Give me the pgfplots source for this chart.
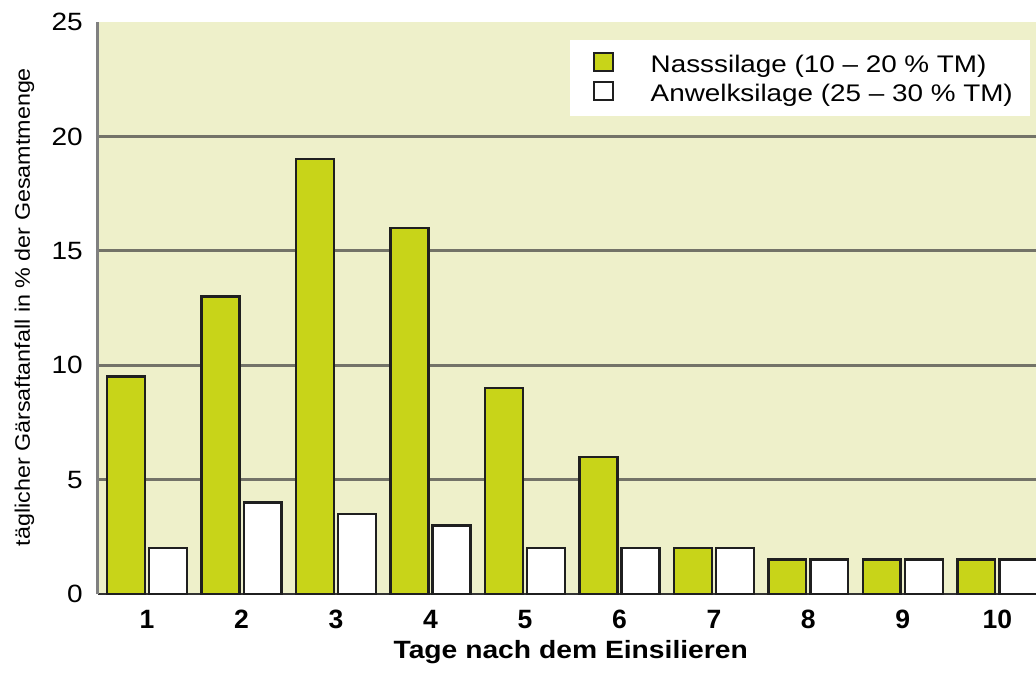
\documentclass[border=0pt]{standalone}
\usepackage{fontspec}
\setmainfont{Liberation Sans}
\newfontfamily\legfont[FakeStretch=1.16]{Liberation Sans}
\newfontfamily\ylabfont[FakeStretch=1.11]{Liberation Sans}
\newfontfamily\xlabfont[FakeStretch=1.13]{Liberation Sans}
\newfontfamily\ytickfont[FakeStretch=1.12]{Liberation Sans}
\usepackage{pgfplots}
\pgfplotsset{compat=1.18}
\definecolor{bg}{RGB}{238,240,202}
\definecolor{barg}{RGB}{200,212,25}
\definecolor{gridc}{RGB}{115,115,104}
\begin{document}
\begin{tikzpicture}
\begin{axis}[
  name=ax,
  scale only axis, width=938pt, height=572pt,
  xmin=0.48, xmax=10.41, ymin=0, ymax=25,
  axis background/.style={fill=bg},
  axis x line=bottom, axis y line=left,
  axis line style={-},
  x axis line style={draw=black!80, line width=2pt},
  y axis line style={draw=gray, line width=3pt},
  xtick={1,...,10},
  ytick={0,5,10,15,20},
  extra y ticks={25},
  extra tick style={grid=none},
  major tick length=0pt,
  ymajorgrids,
  major grid style={gridc, line width=2.8pt},
  /pgf/number format/assume math mode=true,
  yticklabel style={font=\ytickfont\fontsize{25}{28}\selectfont, inner sep=0pt, anchor=east, xshift=-15pt},
  xticklabel style={font=\bfseries\fontsize{26.5}{30}\selectfont, inner sep=0pt, anchor=north, yshift=-16pt},
  xlabel={Tage nach dem Einsilieren},
  xlabel style={font=\xlabfont\bfseries\fontsize{25}{28}\selectfont, at={(rel axis cs:0.504,-0.1136)}, anchor=base, inner sep=0pt},
  ylabel={täglicher Gärsaftanfall in \% der Gesamtmenge},
  ylabel style={font=\ylabfont\fontsize{21}{24}\selectfont, at={(rel axis cs:-0.0725,0.5017)}, anchor=base, rotate=0, inner sep=0pt},
  legend style={at={(rel axis cs:0.9936,0.9685)}, anchor=north east, fill=white, draw=none,
    inner xsep=17pt, inner ysep=12pt,
    font=\legfont\fontsize{24}{27}\selectfont,
    nodes={inner sep=0pt, text height=17pt, text depth=3pt},
    row sep=5pt},
  legend cell align=left,
  /tikz/every odd column/.append style={column sep=37pt},
  legend image code/.code={\path (0pt,0pt); \draw[#1, line width=2pt] (6pt,-5.4pt) rectangle (25pt,12.6pt);},
]
\addplot[ybar, bar width=0.4, bar shift=-0.2225, fill=barg, draw=black!88, line width=2.4pt]
  coordinates {(1,9.5) (2,13) (3,19) (4,16) (5,9) (6,6) (7,2) (8,1.5) (9,1.5) (10,1.5)};
\addlegendentry{Nasssilage (10 – 20 \% TM)}
\addplot[ybar, bar width=0.4, bar shift=0.2225, fill=white, draw=black!88, line width=2.4pt]
  coordinates {(1,2) (2,4) (3,3.5) (4,3) (5,2) (6,2) (7,2) (8,1.5) (9,1.5) (10,1.5)};
\addlegendentry{Anwelksilage (25 – 30 \% TM)}
\end{axis}
\pgfresetboundingbox
\path[use as bounding box] ([shift={(-98pt,-84pt)}]ax.south west) rectangle ([shift={(0pt,22pt)}]ax.north east);
\end{tikzpicture}
\end{document}
